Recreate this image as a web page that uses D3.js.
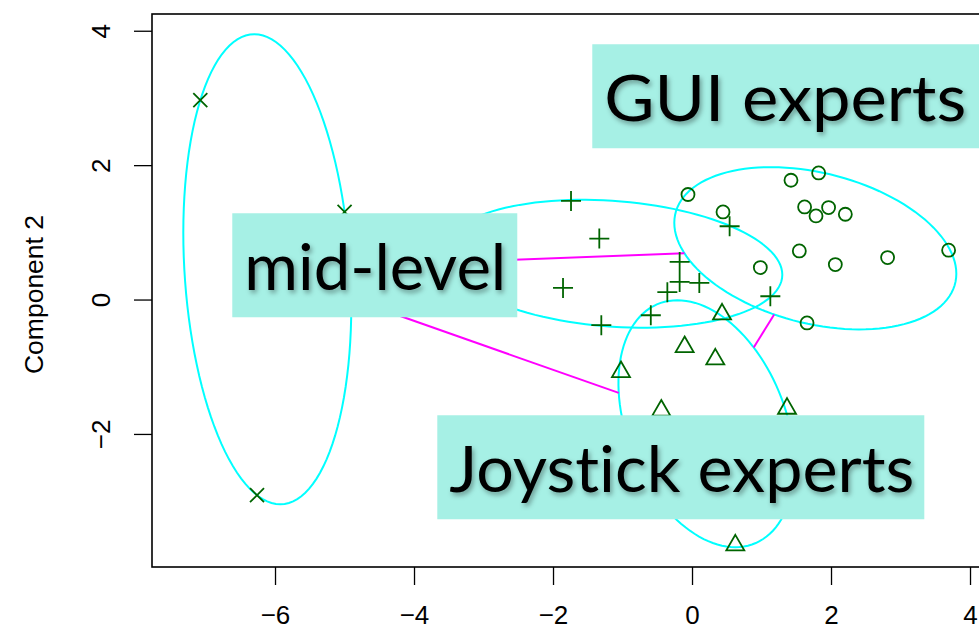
<!DOCTYPE html>
<html>
<head>
<meta charset="utf-8">
<script src="https://cdn.jsdelivr.net/npm/d3@7"></script>
<style>
  body { margin: 0; background: #fff; }
</style>
</head>
<body>
<script>
// cluster members (component 1, component 2)
var midX = [[-7.075, 2.966], [-4.999, 1.304], [-6.259, -2.912]];
var midPlus = [[-1.741, 1.467], [-1.334, 0.908], [-1.856, 0.173], [-1.305, -0.382],
    [-0.178, 0.560], [-0.178, 0.262], [0.105, 0.247], [-0.355, 0.109],
    [-0.593, -0.234], [0.541, 1.091], [1.127, 0.049]];
var guiCircle = [[-0.058, 1.563], [0.446, 1.304], [1.424, 1.775], [1.822, 1.884],
    [1.620, 1.378], [1.965, 1.369], [1.784, 1.244], [2.206, 1.269], [1.544, 0.723],
    [0.983, 0.476], [2.062, 0.521], [2.814, 0.625], [3.692, 0.734], [1.655, -0.348]];
var joyTriangle = [[0.432, -0.219], [-0.106, -0.705], [0.335, -0.888], [-1.022, -1.077],
    [-0.442, -1.650], [1.367, -1.622], [0.623, -3.656]];

// ellipses: centre and two conjugate semi-axes, in data units
var ellipseCenter = [[-6.111, 0.451], [-1.147, 0.533], [1.774, 0.763], [0.206, -1.848]];
var ellipseU = [[-0.187, 3.497], [2.446, -0.164], [2.029, -0.379], [1.194, 0]];
var ellipseV = [[1.194, 0], [0, 0.9375], [0, 1.146], [-0.417, 1.838]];
// which pairs of clusters get a distance line
var linkPairs = [[0, 1], [0, 2], [0, 3], [2, 3]];

var xTicks = [-6, -4, -2, 0, 2, 4];
var yTicks = [-2, 0, 2, 4];

// annotation labels, anchored by their box top-left in data units
var labelText = ["GUI experts", "mid-level", "Joystick experts"];
var labelAnchor = [[-1.435, 3.799], [-6.615, 1.284], [-3.665, -1.722]];

var cfg = {
    width: 979, height: 630,
    left: 152, top: 14, bottom: 567,
    tickLen: 18,
    green: "#006400",
    boxW: [400, 285, 487], boxH: 104,
    textW: [362, 262, 465]
};

var svg = d3.select("body").append("svg")
    .attr("width", cfg.width)
    .attr("height", cfg.height);

var defs = svg.append("defs");
var f = defs.append("filter").attr("id", "shadow")
    .attr("x", "-10%").attr("y", "-20%").attr("width", "120%").attr("height", "150%");
f.append("feDropShadow")
    .attr("dx", 2).attr("dy", 3).attr("stdDeviation", 2.5)
    .attr("flood-color", "#000").attr("flood-opacity", 0.35);

var x = d3.scaleLinear()
    .domain([-7.77, 4.5])
    .range([cfg.left, cfg.left + 12.27 * 69.5]);

var y = d3.scaleLinear()
    .domain([-3.98, 4.25])
    .range([cfg.bottom, cfg.bottom - 8.23 * 67.2]);

// axes
var xAxis = svg.append("g")
    .attr("transform", "translate(0," + cfg.bottom + ")")
    .call(d3.axisBottom(x).tickValues(xTicks).tickSize(cfg.tickLen).tickPadding(21));
xAxis.select(".domain").remove();
xAxis.selectAll("line").attr("stroke", "#000").attr("stroke-width", 1.3);
xAxis.selectAll("text")
    .style("font-family", "'Liberation Sans', Arial, sans-serif")
    .style("font-size", "26px")
    .attr("fill", "#000");

var yAxis = svg.append("g")
    .attr("transform", "translate(" + cfg.left + ",0)")
    .call(d3.axisLeft(y).tickValues(yTicks).tickSize(cfg.tickLen));
yAxis.select(".domain").remove();
yAxis.selectAll("line").attr("stroke", "#000").attr("stroke-width", 1.3);
yAxis.selectAll("text")
    .attr("transform", "rotate(-90)")
    .attr("x", 0)
    .attr("y", -42)
    .attr("dy", 0)
    .attr("text-anchor", "middle")
    .style("font-family", "'Liberation Sans', Arial, sans-serif")
    .style("font-size", "26px")
    .attr("fill", "#000");

svg.append("text")
    .attr("transform", "translate(43," + ((cfg.top + cfg.bottom) / 2 + 4) + ") rotate(-90)")
    .attr("text-anchor", "middle")
    .style("font-family", "'Liberation Sans', Arial, sans-serif")
    .style("font-size", "26.5px")
    .text("Component 2");

// plot frame
svg.append("rect")
    .attr("x", cfg.left)
    .attr("y", cfg.top)
    .attr("width", x.range()[1] - cfg.left)
    .attr("height", cfg.bottom - cfg.top)
    .attr("fill", "none")
    .attr("stroke", "#000")
    .attr("stroke-width", 1.6);

// ellipses
function ellipsePoints(i) {
    var c = ellipseCenter[i], u = ellipseU[i], v = ellipseV[i];
    return d3.range(0, 120).map(function (k) {
        var t = k / 120 * 2 * Math.PI;
        return [c[0] + u[0] * Math.cos(t) + v[0] * Math.sin(t),
                c[1] + u[1] * Math.cos(t) + v[1] * Math.sin(t)];
    });
}
var ellLine = d3.line()
    .x(function (d) { return x(d[0]); })
    .y(function (d) { return y(d[1]); })
    .curve(d3.curveLinearClosed);

svg.append("g").selectAll("path")
    .data(ellipseCenter.map(function (d, i) { return ellipsePoints(i); }))
    .enter().append("path")
    .attr("d", ellLine)
    .attr("fill", "none")
    .attr("stroke", "#00ffff")
    .attr("stroke-width", 2);

// distance lines between ellipse borders, along the centre-to-centre line
function borderPoint(i, d) {
    var u = ellipseU[i], v = ellipseV[i];
    var det = u[0] * v[1] - v[0] * u[1];
    var a = (d[0] * v[1] - v[0] * d[1]) / det;
    var b = (u[0] * d[1] - d[0] * u[1]) / det;
    var n = Math.sqrt(a * a + b * b);
    return [ellipseCenter[i][0] + d[0] / n, ellipseCenter[i][1] + d[1] / n];
}
var links = linkPairs.map(function (p) {
    var ci = ellipseCenter[p[0]], cj = ellipseCenter[p[1]];
    var d = [cj[0] - ci[0], cj[1] - ci[1]];
    return [borderPoint(p[0], d), borderPoint(p[1], [-d[0], -d[1]])];
});
svg.append("g").selectAll("line")
    .data(links)
    .enter().append("line")
    .attr("x1", function (d) { return x(d[0][0]); })
    .attr("y1", function (d) { return y(d[0][1]); })
    .attr("x2", function (d) { return x(d[1][0]); })
    .attr("y2", function (d) { return y(d[1][1]); })
    .attr("stroke", "#ff00ff")
    .attr("stroke-width", 2);

// point symbols
var pts = svg.append("g")
    .attr("fill", "none")
    .attr("stroke", cfg.green)
    .attr("stroke-width", 1.8);

pts.selectAll(".cross")
    .data(midX)
    .enter().append("path")
    .attr("class", "cross")
    .attr("d", function (d) {
        var px = x(d[0]), py = y(d[1]), r = 7;
        return "M" + (px - r) + "," + (py - r) + "L" + (px + r) + "," + (py + r) +
            "M" + (px - r) + "," + (py + r) + "L" + (px + r) + "," + (py - r);
    });

pts.selectAll(".plus")
    .data(midPlus)
    .enter().append("path")
    .attr("class", "plus")
    .attr("d", function (d) {
        var px = x(d[0]), py = y(d[1]), r = 10;
        return "M" + (px - r) + "," + py + "L" + (px + r) + "," + py +
            "M" + px + "," + (py - r) + "L" + px + "," + (py + r);
    });

pts.selectAll(".circ")
    .data(guiCircle)
    .enter().append("circle")
    .attr("class", "circ")
    .attr("cx", function (d) { return x(d[0]); })
    .attr("cy", function (d) { return y(d[1]); })
    .attr("r", 6.5);

pts.selectAll(".tri")
    .data(joyTriangle)
    .enter().append("path")
    .attr("class", "tri")
    .attr("transform", function (d) { return "translate(" + x(d[0]) + "," + y(d[1]) + ")"; })
    .attr("d", d3.symbol(d3.symbolTriangle, 140));

// annotation boxes
var notes = svg.append("g").selectAll("g")
    .data(labelText)
    .enter().append("g")
    .attr("transform", function (d, i) {
        return "translate(" + x(labelAnchor[i][0]) + "," + y(labelAnchor[i][1]) + ")";
    });

notes.append("rect")
    .attr("width", function (d, i) { return cfg.boxW[i]; })
    .attr("height", cfg.boxH)
    .attr("fill", "#a6f0e5");

notes.append("text")
    .attr("x", 12)
    .attr("y", 77)
    .attr("textLength", function (d, i) { return cfg.textW[i]; })
    .attr("lengthAdjust", "spacingAndGlyphs")
    .attr("filter", "url(#shadow)")
    .style("font-family", "Lato, 'Open Sans', sans-serif")
    .style("font-size", "64px")
    .style("font-variant-ligatures", "none")
    .attr("fill", "#000")
    .text(function (d) { return d; });
</script>
</body>
</html>
